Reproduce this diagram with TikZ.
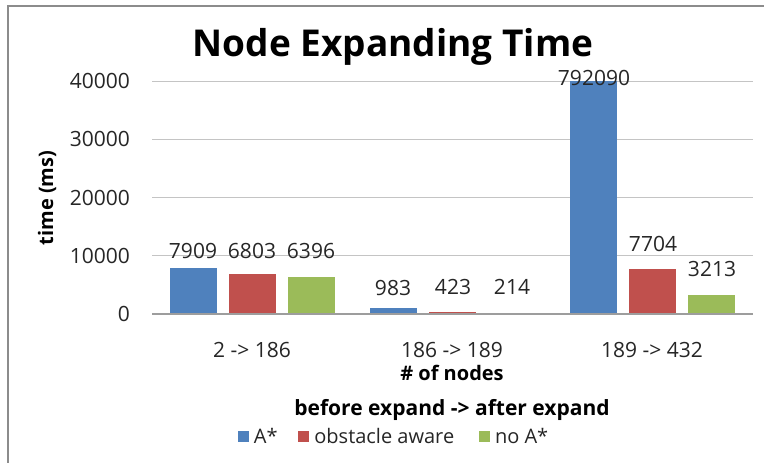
\documentclass[tikz,border=0pt]{standalone}
\usepackage{fontspec}
\setmainfont{Open Sans}
\usetikzlibrary{positioning}
\definecolor{barblue}{HTML}{4F81BD}
\definecolor{barred}{HTML}{C0504D}
\definecolor{bargreen}{HTML}{9BBB59}
\definecolor{gridgray}{HTML}{C4C4C4}
\definecolor{framegray}{HTML}{8C8C8C}

\begin{document}
\begin{tikzpicture}[
    x=1pt, y=-1pt,
    lbl/.style={
        inner sep=0pt,
        text=black!85,
        font=\fontsize{21}{25}\selectfont
    },
    legtxt/.style={
        lbl,
        font=\fontsize{20}{24}\selectfont
    },
    boldlbl/.style={
        lbl,
        text=black,
        font=\fontsize{20}{24}\selectfont\bfseries
    },
    legsq/.style={
        minimum size=11pt,
        inner sep=0pt
    },
    grid/.style={gridgray, line width=1.2pt}
]
\useasboundingbox (0,0) rectangle (764,463);
\fill[white] (0,0) rectangle (764,463);
\draw[framegray, line width=1.2pt] (8,463) -- (8,6) -- (764,6);

\node[font=\fontsize{37}{44}\selectfont\bfseries, inner sep=0pt] (title) at (393,47) {Node Expanding Time};

\foreach \v/\t in {1/10000,2/20000,3/30000,4/40000}{
    \draw[grid] (152,314-58.2*\v) -- (753,314-58.2*\v);
    \node[lbl, anchor=east] (tick\v) at (130,314-58.2*\v) {\t};
}
\node[lbl, anchor=east] (tick0) at (130,314) {0};

\foreach \g/\ha/\hb/\hc in {0/7.909/6.803/6.396,1/0.983/0.423/0.214,2/40/7.704/3.213}{
    \pgfmathsetmacro\cx{252+200*\g}
    \fill[barblue] (\cx-82,314) rectangle ++(47,-5.82*\ha);
    \fill[barred] (\cx-23.5,314) rectangle ++(47,-5.82*\hb);
    \fill[bargreen] (\cx+35.5,314) rectangle ++(47,-5.82*\hc);
}
\draw[gridgray!80!black, line width=1.2pt] (152,314) -- (753,314);

\node[lbl] (v1) at (193,251) {7909};
\node[lbl] (v2) at (252,251) {6803};
\node[lbl] (v3) at (311,251) {6396};
\node[lbl] (v4) at (393,288) {983};
\node[lbl] (v5) at (453,287) {423};
\node[lbl] (v6) at (512,287) {214};
\node[lbl] (v7) at (594,78) {792090};
\node[lbl] (v8) at (653,244) {7704};
\node[lbl] (v9) at (712,269) {3213};

\node[boldlbl, rotate=90] (ytitle) at (47,198) {time (ms)};

\node[lbl] (c1) at (252,350) {2 -> 186};
\node[lbl] (c2) at (452,350) {186 -> 189};
\node[lbl] (c3) at (652,350) {189 -> 432};
\node[boldlbl, below=7pt of c2] (xtitle) {\# of nodes};

\node[boldlbl, font=\fontsize{21}{25}\selectfont\bfseries] (subtitle) at (452,410) {before expand -> after expand};

\node[legsq, fill=barblue] (kA) at (243,436) {};
\node[legtxt, right=5pt of kA] (tA) {A*};
\node[legsq, fill=barred, right=20pt of tA] (kO) {};
\node[legtxt, right=5pt of kO] (tO) {obstacle aware};
\node[legsq, fill=bargreen, right=24pt of tO] (kN) {};
\node[legtxt, right=5pt of kN] (tN) {no A*};
\end{tikzpicture}
\end{document}
